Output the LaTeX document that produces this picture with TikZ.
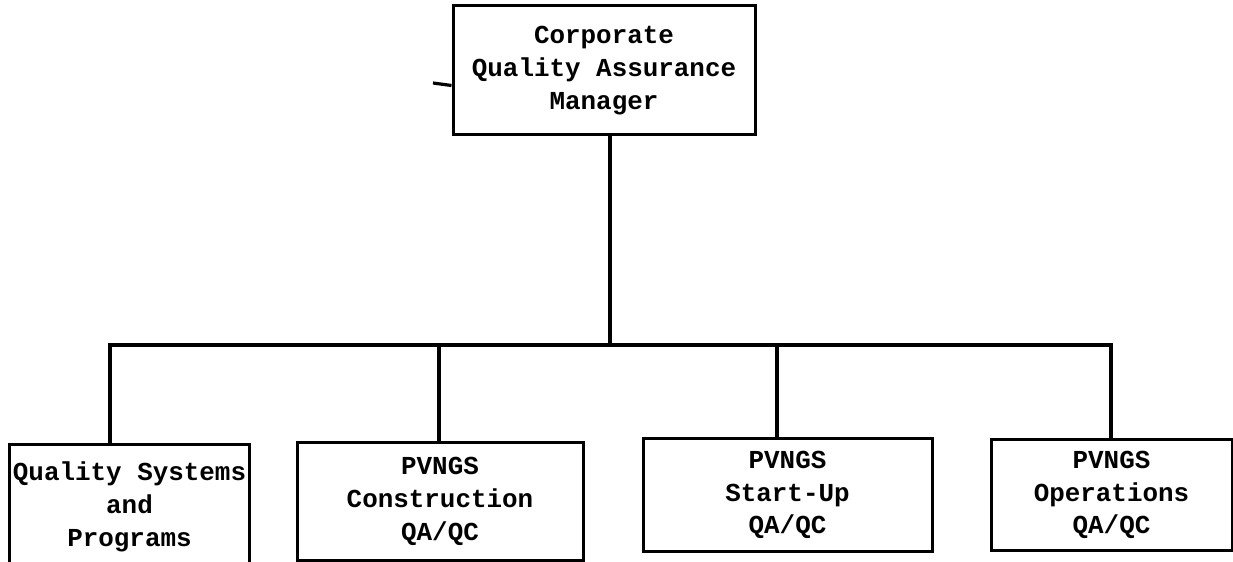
\documentclass[tikz,border=0pt]{standalone}
\usepackage{fontspec}
\setmonofont{Liberation Mono}
\usepackage{tikz}
\usetikzlibrary{positioning,calc}

\tikzset{
  orgbox/.style={draw, line width=3bp, inner sep=0pt, align=center,
    font=\ttfamily\bfseries\fontsize{26}{33}\selectfont},
  orgline/.style={line width=3.2bp, line join=miter}
}

\begin{document}
\begin{tikzpicture}[x=1bp, y=-1bp]
% page frame
\fill[white] (0,0) rectangle (1233,562);
\useasboundingbox (0,0) rectangle (1233,562);

% Boxes
\node[orgbox, minimum width=302bp, minimum height=129bp] (qam) at (604,70.5)
  {Corporate\\Quality Assurance\\Manager};
\node[orgbox, minimum width=239bp, minimum height=124bp] (qsp) at (129.5,507)
  {Quality Systems\\and\\Programs};
\node[orgbox, minimum width=286bp, minimum height=117bp] (con) at (440,501.5)
  {PVNGS\\Construction\\QA/QC};
\node[orgbox, minimum width=289bp, minimum height=112bp] (stu) at (787.5,495)
  {PVNGS\\Start-Up\\QA/QC};
\node[orgbox, minimum width=241bp, minimum height=110bp] (ops) at (1111.5,495)
  {PVNGS\\Operations\\QA/QC};

% Connectors
\coordinate (bus) at (0,345);
\coordinate (stub) at (433,83);
\draw[orgline] ([xshift=6bp]qam.south) -- ([xshift=6bp]qam.south |- bus);
\draw[orgline] ([xshift=-19.5bp]qsp.north) |- ([xshift=-0.5bp]ops.north |- bus)
  -- ([xshift=-0.5bp]ops.north);
\draw[orgline] ([xshift=-1bp]con.north) -- ([xshift=-1bp]con.north |- bus);
\draw[orgline] ([xshift=-10.5bp]stu.north) -- ([xshift=-10.5bp]stu.north |- bus);
\draw[orgline] (stub) -- ([yshift=-15bp]qam.west);
\end{tikzpicture}
\end{document}
